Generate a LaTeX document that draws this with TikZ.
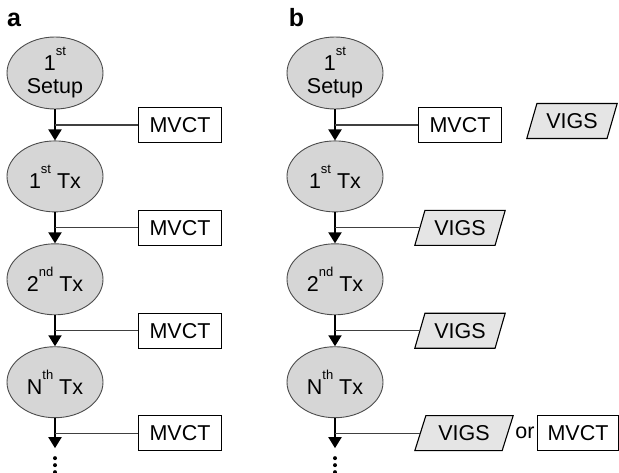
\documentclass[tikz,border=0pt]{standalone}
\usepackage{fontspec}
\setmainfont{Liberation Sans}
\usetikzlibrary{positioning,arrows.meta,calc,shapes.geometric}
% small raised ordinal suffix (st, nd, th)
\newcommand{\ord}[1]{\raisebox{0.7em}{\fontsize{13}{13}\selectfont #1}}

\begin{document}
\begin{tikzpicture}[
  x=1pt,y=-1pt,
  font=\fontsize{21.5}{23}\selectfont,
  node distance=31pt,
  stage/.style ={ellipse,draw=black!70,line width=0.9pt,fill=black!16,
                 minimum width=96pt,minimum height=71pt,inner sep=0pt,align=center},
  mvct/.style  ={draw=black,line width=1.1pt,fill=white,
                 minimum width=83pt,minimum height=35pt,inner sep=0pt},
  vigs/.style  ={trapezium,trapezium left angle=64,trapezium right angle=116,
                 trapezium stretches=true,
                 draw=black,line width=1.1pt,fill=black!10,
                 minimum width=91pt,minimum height=35pt,inner sep=0pt},
  flow/.style  ={-{Triangle[length=11pt,width=13pt]},line width=2pt,draw=black},
  tap/.style   ={line width=1.2pt,draw=black!75},
  panel/.style ={font=\fontsize{25}{25}\selectfont\bfseries,inner sep=0pt},
]
\useasboundingbox (0,0) rectangle (619,472);

% ============================== panel a ==============================
\node[panel] (labA) at (14,20) {a};

\node[stage] (setupA) at (55,73) {1\ord{st}\\Setup};
\node[stage,below=of setupA] (txA1) {1\ord{st} Tx};
\node[stage,below=of txA1]   (txA2) {2\ord{nd} Tx};
\node[stage,below=of txA2]   (txAN) {N\ord{th} Tx};
\coordinate[below=30pt of txAN.south] (endA);

\node[mvct] (mvctA0) at ($(setupA.south)!0.5!(txA1.north)+(125,0)$) {MVCT};
\node[mvct] (mvctA1) at ($(txA1.south)!0.5!(txA2.north)+(125,0)$)   {MVCT};
\node[mvct] (mvctA2) at ($(txA2.south)!0.5!(txAN.north)+(125,0)$)   {MVCT};
\node[mvct] (mvctA3) at ($(txAN.south)!0.5!(endA)+(125,0)$)         {MVCT};

\draw[flow] (setupA) -- (txA1);
\draw[flow] (txA1)   -- (txA2);
\draw[flow] (txA2)   -- (txAN);
\draw[flow] (txAN)   -- (endA);
\foreach \b in {mvctA0,mvctA1,mvctA2,mvctA3}
  \draw[tap] (\b.west) -- (\b.west -| setupA.south);
\foreach \d in {10,17,24}
  \fill ($(endA)+(0,\d)$) circle (2pt);

% ============================== panel b ==============================
\node[panel] (labB) at (296.5,17.5) {b};

\node[stage] (setupB) at (335,73) {1\ord{st}\\Setup};
\node[stage,below=of setupB] (txB1) {1\ord{st} Tx};
\node[stage,below=of txB1]   (txB2) {2\ord{nd} Tx};
\node[stage,below=of txB2]   (txBN) {N\ord{th} Tx};
\coordinate[below=30pt of txBN.south] (endB);

\node[mvct] (mvctB0) at ($(setupB.south)!0.5!(txB1.north)+(125,0)$) {MVCT};
\node[vigs] (vigsB0) at ($(mvctB0)+(112,-4)$)                       {VIGS};
\node[vigs] (vigsB1) at ($(txB1.south)!0.5!(txB2.north)+(125,0)$)   {VIGS};
\node[vigs] (vigsB2) at ($(txB2.south)!0.5!(txBN.north)+(125,0)$)   {VIGS};
\node[vigs,minimum width=99pt] (vigsB3)
  at ($(txBN.south)!0.5!(endB)+(129,0)$) {VIGS};
\node (orB) at ($(vigsB3)+(61,0)$) {or};
\node[mvct,minimum width=81pt] (mvctB3) at ($(vigsB3)+(114,0)$) {MVCT};

\draw[flow] (setupB) -- (txB1);
\draw[flow] (txB1)   -- (txB2);
\draw[flow] (txB2)   -- (txBN);
\draw[flow] (txBN)   -- (endB);
\foreach \b in {mvctB0,vigsB1,vigsB2,vigsB3}
  \draw[tap] (\b.west) -- (\b.west -| setupB.south);
\foreach \d in {10,17,24}
  \fill ($(endB)+(0,\d)$) circle (2pt);

\end{tikzpicture}
\end{document}
